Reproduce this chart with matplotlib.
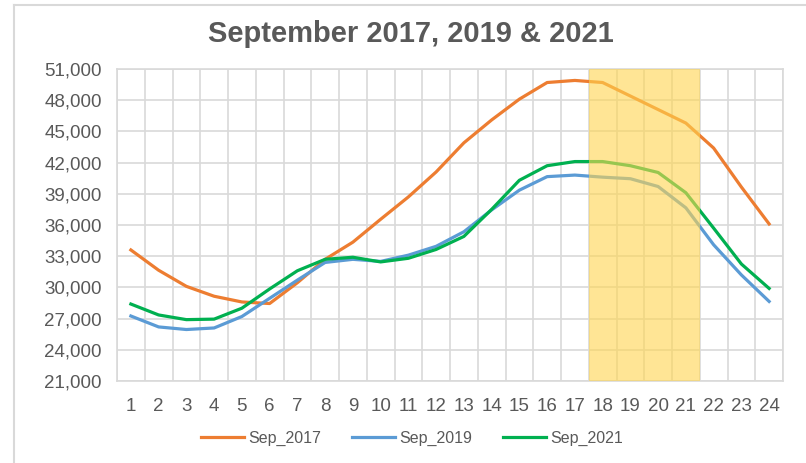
import matplotlib.pyplot as plt
from matplotlib.lines import Line2D

# データ
hours = list(range(1, 25))
sep_2017 = [33600, 31650, 30100, 29150, 28600, 28450, 30450, 32700, 34350, 36550,
            38700, 41100, 43900, 46100, 48100, 49700, 49900, 49700, 48400, 47100,
            45800, 43400, 39650, 36100]
sep_2019 = [27250, 26200, 25950, 26100, 27200, 28950, 30700, 32400, 32700, 32500,
            33100, 33950, 35350, 37450, 39350, 40650, 40800, 40600, 40450, 39700,
            37650, 34100, 31200, 28650]
sep_2021 = [28400, 27350, 26900, 26950, 28000, 29850, 31600, 32700, 32900, 32450,
            32800, 33650, 34900, 37500, 40300, 41700, 42100, 42100, 41700, 41050,
            39100, 35700, 32250, 29900]
yticks = list(range(21000, 51001, 3000))

plt.rcParams['font.family'] = ['Liberation Sans', 'DejaVu Sans']
text_color = '#595959'
grid_color = '#d9d9d9'

fig = plt.figure(figsize=(8.06, 4.63), dpi=100)
ax = fig.add_axes([117 / 806, 82 / 463, 666 / 806, 312 / 463])

ax.plot(hours, sep_2017, color='#ed7d31', lw=2.3, label='Sep_2017', zorder=3)
ax.plot(hours, sep_2019, color='#5b9bd5', lw=2.3, label='Sep_2019', zorder=3)
ax.plot(hours, sep_2021, color='#00b050', lw=2.3, label='Sep_2021', zorder=3)

# 強調する時間帯 (18-21時)
ax.axvspan(17.5, 21.5, color='#ffd54f', alpha=0.6, lw=0, zorder=4)

ax.set_xlim(0.5, 24.5)
ax.set_ylim(21000, 51000)
ax.set_yticks(yticks)
ax.set_yticklabels([f'{v:,}' for v in yticks])
ax.set_xticks(hours)
ax.set_xticklabels([str(h) for h in hours])
ax.set_xticks([h + 0.5 for h in range(0, 25)], minor=True)

ax.grid(True, which='major', axis='y', color=grid_color, lw=1.2, zorder=0)
ax.grid(True, which='minor', axis='x', color=grid_color, lw=1.2, zorder=0)
ax.tick_params(which='both', length=0)
ax.tick_params(axis='both', labelsize=13.5, colors=text_color)
ax.tick_params(axis='x', pad=12)
ax.tick_params(axis='y', pad=11)
for s in ax.spines.values():
    s.set_color(grid_color)
    s.set_linewidth(1.2)

fig.text(411 / 806, 1 - 34 / 463, 'September 2017, 2019 & 2021', ha='center', va='center',
         fontsize=21, fontweight='bold', color=text_color)

fig.legend(loc='center', bbox_to_anchor=(412 / 806, 1 - 438 / 463), ncol=3, frameon=False,
           fontsize=11.5, labelcolor=text_color, handlelength=2.7, handletextpad=0.3,
           columnspacing=1.9)

# 外枠
fig.add_artist(Line2D([14 / 806, 1], [1 - 5 / 463, 1 - 5 / 463], transform=fig.transFigure,
                      color='#d9d9d9', lw=1.5))
fig.add_artist(Line2D([14 / 806, 14 / 806], [0, 1 - 5 / 463], transform=fig.transFigure,
                      color='#d9d9d9', lw=1.5))

fig.savefig('out.png', dpi=100)
